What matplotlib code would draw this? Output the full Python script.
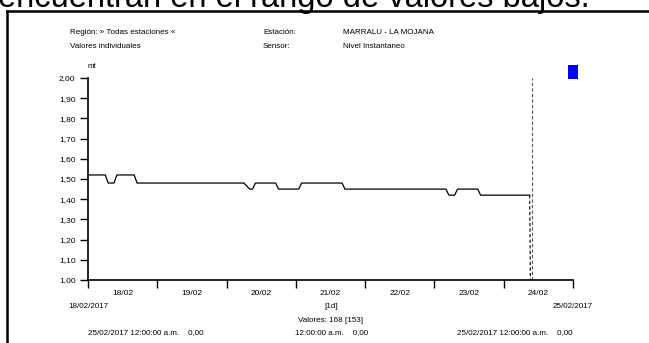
import matplotlib.pyplot as plt
from matplotlib.lines import Line2D

plt.rcParams['font.family'] = ['Liberation Sans', 'DejaVu Sans']

hours = [0, 6, 7, 9, 10, 16, 17, 54, 56, 57, 58, 65, 66, 73, 74, 88, 89,
         124, 125, 127, 128, 135, 136, 153]
nivel = [1.52, 1.52, 1.48, 1.48, 1.52, 1.52, 1.48, 1.48, 1.45, 1.45, 1.48,
         1.48, 1.45, 1.45, 1.48, 1.48, 1.45, 1.45, 1.42, 1.42, 1.45, 1.45,
         1.42, 1.42]
day_labels = ['18/02', '19/02', '20/02', '21/02', '22/02', '23/02', '24/02']
y_ticks = [1.0, 1.1, 1.2, 1.3, 1.4, 1.5, 1.6, 1.7, 1.8, 1.9, 2.0]
last_hour = 153.8

W, H = 649, 343
fig = plt.figure(figsize=(W / 100, H / 100), dpi=100)

def fx(px):
    return px / W

def fy(py):
    return 1 - py / H

# partial caption above the screenshot
fig.text(fx(-2), fy(7), 'encuentran en el rango de valores bajos.', fontsize=23.5,
         va='baseline', ha='left')

# frame of the screenshot
fig.add_artist(Line2D([fx(7), fx(7)], [fy(11), fy(350)], color='black', lw=1.8))
fig.add_artist(Line2D([fx(7), fx(660)], [fy(11), fy(11)], color='black', lw=1.8))

ax = fig.add_axes([fx(88), fy(280), fx(573) - fx(88), fy(78) - fy(280)])
ax.plot(hours, nivel, color='black', lw=0.9)
ax.plot([hours[-1], last_hour], [nivel[-1], 0.0], color='black', lw=0.8, ls=(0, (3, 2)))
ax.axvline(last_hour, color='#555555', lw=0.8, ls=(0, (3, 2)))
box = [(-0.35, -0.5), (0.35, -0.5), (0.35, 0.5), (-0.35, 0.5), (-0.35, -0.5)]
ax.plot([168], [2.03], marker=box, ms=10, color='#0000ff', mew=0, clip_on=False)

ax.set_xlim(0, 168)
ax.set_ylim(1.0, 2.0)
for s in ['top', 'right']:
    ax.spines[s].set_visible(False)
for s in ['left', 'bottom']:
    ax.spines[s].set_linewidth(1.2)

ax.set_yticks(y_ticks)
ax.set_yticklabels([f'{v:.2f}'.replace('.', ',') for v in y_ticks])
ax.set_xticks(range(0, 169, 24))
ax.set_xticklabels([])
ax.set_xticks([12 + 24 * i for i in range(7)], minor=True)
ax.set_xticklabels(day_labels, minor=True)
ax.tick_params(axis='both', which='major', length=6, width=1, labelsize=6, pad=3, direction='out')
ax.tick_params(axis='x', which='minor', length=0, labelsize=6, pad=7)

fs = 5.8
fig.text(fx(88), fy(67), 'mt', fontsize=fs, va='center')
fig.text(fx(70), fy(33), 'Región: » Todas estaciones «', fontsize=fs, va='center')
fig.text(fx(70), fy(46), 'Valores individuales', fontsize=fs, va='center')
fig.text(fx(263), fy(33), 'Estación:', fontsize=fs, va='center')
fig.text(fx(263), fy(46), 'Sensor:', fontsize=fs, va='center')
fig.text(fx(343), fy(33), 'MARRALU - LA MOJANA', fontsize=fs, va='center')
fig.text(fx(343), fy(46), 'Nivel Instantaneo', fontsize=fs, va='center')

fig.text(fx(88), fy(307), '18/02/2017', fontsize=fs, va='center', ha='center')
fig.text(fx(573), fy(307), '25/02/2017', fontsize=fs, va='center', ha='center')
fig.text(fx(331), fy(306), '[1d]', fontsize=fs, va='center', ha='center')
fig.text(fx(331), fy(320), 'Valores: 168 [153]', fontsize=fs, va='center', ha='center')
fig.text(fx(88), fy(333), '25/02/2017 12:00:00 a.m.    0,00', fontsize=fs, va='center')
fig.text(fx(295), fy(333), '12:00:00 a.m.    0,00', fontsize=fs, va='center')
fig.text(fx(457), fy(333), '25/02/2017 12:00:00 a.m.    0,00', fontsize=fs, va='center')

fig.savefig('out.png', dpi=100)
